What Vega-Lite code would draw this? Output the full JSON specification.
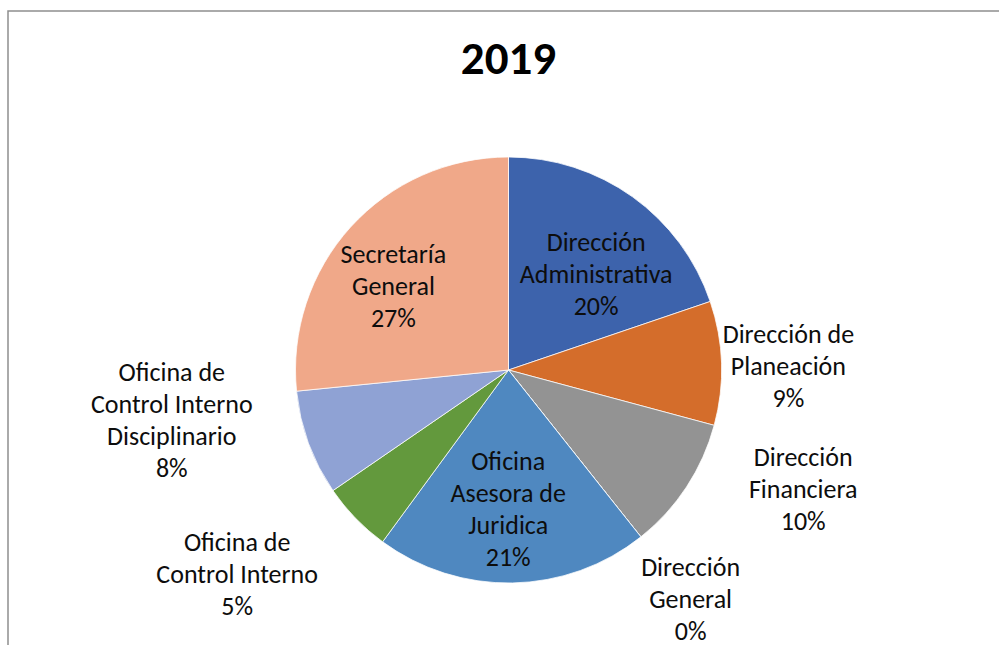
{
  "$schema": "https://vega.github.io/schema/vega-lite/v6.json",
  "autosize": {"type": "none"},
  "padding": {"left": 8, "top": 11, "right": 0, "bottom": 0},
  "width": 1001,
  "height": 718,
  "background": "white",
  "view": {"stroke": "#8e8e8e", "strokeWidth": 1.5},
  "config": {"view": {"stroke": "#8e8e8e", "strokeWidth": 1.5}, "font": "Carlito, Lato"},
  "title": {"text": "2019", "fontSize": 47, "fontWeight": "bold", "font": "Carlito, Lato", "color": "#000000", "anchor": "middle", "frame": "group", "baseline": "alphabetic", "offset": -110},
  "data": {"values": [
    {"idx": 1, "name": "Dirección Administrativa", "label": "Dirección\nAdministrativa\n20%", "value": 19.8},
    {"idx": 2, "name": "Dirección de Planeación", "label": "Dirección de\nPlaneación\n9%", "value": 9.4},
    {"idx": 3, "name": "Dirección Financiera", "label": "Dirección\nFinanciera\n10%", "value": 10.15},
    {"idx": 4, "name": "Dirección General", "label": "Dirección\nGeneral\n0%", "value": 0},
    {"idx": 5, "name": "Oficina Asesora de Juridica", "label": "Oficina\nAsesora de\nJuridica\n21%", "value": 20.75},
    {"idx": 6, "name": "Oficina de Control Interno", "label": "Oficina de\nControl Interno\n5%", "value": 5.36},
    {"idx": 7, "name": "Oficina de Control Interno Disciplinario", "label": "Oficina de\nControl Interno\nDisciplinario\n8%", "value": 8.0},
    {"idx": 8, "name": "Secretaría General", "label": "Secretaría\nGeneral\n27%", "value": 26.6}
  ]},
  "encoding": {
    "theta": {"field": "value", "type": "quantitative", "stack": true},
    "order": {"field": "idx", "type": "quantitative"}
  },
  "layer": [
    {
      "mark": {"type": "arc", "outerRadius": 213, "stroke": "white", "strokeWidth": 0.75},
      "encoding": {
        "color": {"field": "name", "type": "nominal", "legend": null,
          "scale": {
            "domain": ["Dirección Administrativa", "Dirección de Planeación", "Dirección Financiera", "Dirección General", "Oficina Asesora de Juridica", "Oficina de Control Interno", "Oficina de Control Interno Disciplinario", "Secretaría General"],
            "range": ["#3D63AC", "#D46D2B", "#939393", "#E0B000", "#4F88C0", "#63993D", "#8FA2D4", "#F0A889"]
          }}
      }
    },
    {
      "mark": {"type": "text", "radius": 135, "dx": 9, "dy": -17, "fontSize": 26, "lineHeight": 32, "lineBreak": "\n", "align": "center", "baseline": "middle", "color": "#0d0d0d"},
      "encoding": {"text": {"condition": {"test": "datum.idx === 1", "field": "label"}, "value": ""}}
    },
    {
      "mark": {"type": "text", "radius": 280, "dx": 0, "dy": -26, "fontSize": 26, "lineHeight": 32, "lineBreak": "\n", "align": "center", "baseline": "middle", "color": "#0d0d0d"},
      "encoding": {"text": {"condition": {"test": "datum.idx === 2", "field": "label"}, "value": ""}}
    },
    {
      "mark": {"type": "text", "radius": 300, "dx": 44, "dy": -77, "fontSize": 26, "lineHeight": 32, "lineBreak": "\n", "align": "center", "baseline": "middle", "color": "#0d0d0d"},
      "encoding": {"text": {"condition": {"test": "datum.idx === 3", "field": "label"}, "value": ""}}
    },
    {
      "mark": {"type": "text", "radius": 293, "dx": 0, "dy": -32, "fontSize": 26, "lineHeight": 32, "lineBreak": "\n", "align": "center", "baseline": "middle", "color": "#0d0d0d"},
      "encoding": {"text": {"condition": {"test": "datum.idx === 4", "field": "label"}, "value": ""}}
    },
    {
      "mark": {"type": "text", "radius": 140, "dx": -3, "dy": -48, "fontSize": 26, "lineHeight": 32, "lineBreak": "\n", "align": "center", "baseline": "middle", "color": "#0d0d0d"},
      "encoding": {"text": {"condition": {"test": "datum.idx === 5", "field": "label"}, "value": ""}}
    },
    {
      "mark": {"type": "text", "radius": 300, "dx": -56, "dy": -36, "fontSize": 26, "lineHeight": 32, "lineBreak": "\n", "align": "center", "baseline": "middle", "color": "#0d0d0d"},
      "encoding": {"text": {"condition": {"test": "datum.idx === 6", "field": "label"}, "value": ""}}
    },
    {
      "mark": {"type": "text", "radius": 300, "dx": -55, "dy": -100, "fontSize": 26, "lineHeight": 32, "lineBreak": "\n", "align": "center", "baseline": "middle", "color": "#0d0d0d"},
      "encoding": {"text": {"condition": {"test": "datum.idx === 7", "field": "label"}, "value": ""}}
    },
    {
      "mark": {"type": "text", "radius": 135, "dx": -15, "dy": -24, "fontSize": 26, "lineHeight": 32, "lineBreak": "\n", "align": "center", "baseline": "middle", "color": "#0d0d0d"},
      "encoding": {"text": {"condition": {"test": "datum.idx === 8", "field": "label"}, "value": ""}}
    }
  ]
}
